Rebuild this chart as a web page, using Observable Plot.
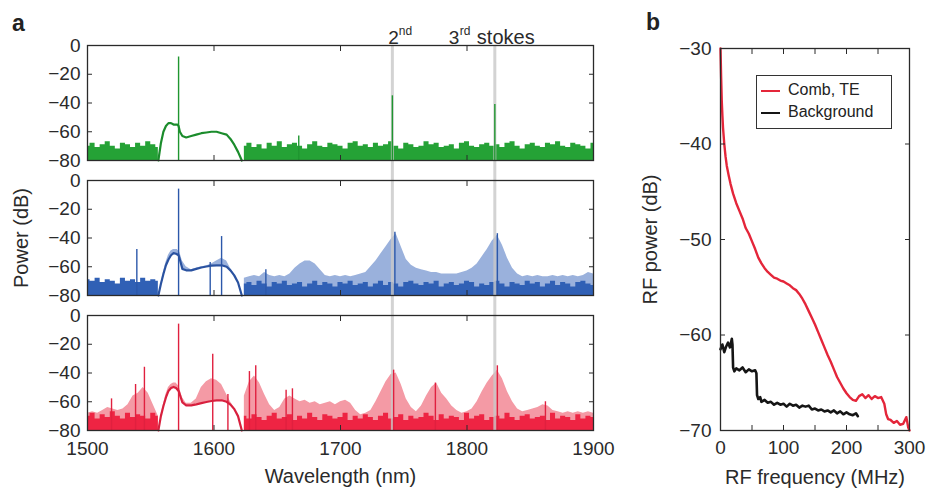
<!DOCTYPE html>
<html><head><meta charset="utf-8">
<script src="https://cdn.jsdelivr.net/npm/d3@7"></script>
<script src="https://cdn.jsdelivr.net/npm/@observablehq/plot@0.6"></script>
<style>
body{margin:0;background:#fff;}
#fig{position:relative;width:927px;height:491px;font-family:"Liberation Sans",Arial,sans-serif;color:#222;overflow:hidden;}
#pa{position:absolute;left:0;top:0;}
#pb{position:absolute;left:620px;top:0;}
.lbl{position:absolute;font-weight:bold;font-size:23px;line-height:1;}
#legend{position:absolute;left:756px;top:75px;width:134px;height:52px;border:1.3px solid #333;background:#fff;font-size:16px;}
#legend .row{position:absolute;left:4px;height:18px;line-height:18px;white-space:nowrap;}
#legend .sw{display:inline-block;width:19px;height:2px;vertical-align:middle;margin-right:8px;}
</style></head><body>
<div id="fig">
  <div id="pa"></div>
  <div id="pb"></div>
  <div class="lbl" style="left:12px;top:12px">a</div>
  <div class="lbl" style="left:646px;top:11px">b</div>
  <div id="legend">
    <div class="row" style="top:5px"><span class="sw" style="background:#e4263a"></span>Comb, TE</div>
    <div class="row" style="top:27px"><span class="sw" style="background:#151515"></span>Background</div>
  </div>
</div>
<script>
// ---------- Panel a data ----------
const WL = [1500,1504,1508,1512,1516,1520,1524,1528,1532,1536,1540,1544,1548,1552,1556,
1560,1564,1568,1572,1576,1580,1584,1588,1592,1596,1600,1604,1608,1612,1616,1620,
1624,1628,1632,1636,1640,1644,1648,1652,1656,1660,1664,1668,1672,1676,1680,1684,1688,1692,1696,1700,
1704,1708,1712,1716,1720,1724,1728,1732,1736,1740,1744,1748,1752,1756,1760,1764,1768,1772,1776,1780,
1784,1788,1792,1796,1800,1804,1808,1812,1816,1820,1824,1828,1832,1836,1840,1844,1848,1852,1856,1860,
1864,1868,1872,1876,1880,1884,1888,1892,1896,1900];

const floorTop = [-70,-68,-71,-69,-67,-70,-72,-68,-69,-71,-68,-70,-67,-69,-71,
null,null,null,null,null,null,null,null,null,null,null,null,null,null,null,null,
-70,-68,-71,-69,-72,-68,-70,-67,-71,-69,-68,-70,-72,-69,-67,-70,-71,-68,-69,-70,
-72,-68,-67,-70,-69,-71,-68,-70,-69,-67,-70,-72,-68,-69,-71,-70,-67,-69,-68,-71,
-70,-69,-72,-68,-67,-70,-71,-69,-68,-70,-69,-71,-68,-67,-70,-72,-69,-68,-70,-71,
-68,-69,-67,-70,-71,-68,-69,-70,-72,-68];

const floorMid = [-69,-70,-68,-71,-69,-70,-72,-68,-70,-69,-71,-68,-70,-69,-70,
null,null,null,null,null,null,null,null,null,null,null,null,null,null,null,null,
-72,-71,-73,-70,-72,-74,-71,-72,-70,-73,-72,-71,-74,-72,-70,-73,-71,-72,-74,-71,
-72,-70,-73,-72,-71,-74,-72,-70,-73,-71,-72,-74,-71,-70,-72,-73,-71,-72,-70,-74,
-72,-71,-73,-72,-70,-71,-74,-72,-73,-71,-70,-72,-74,-71,-72,-73,-70,-72,-71,-74,
-72,-70,-73,-71,-72,-74,-71,-70,-72,-73];

const floorBot = [-70,-68,-72,-69,-71,-67,-70,-72,-68,-71,-69,-70,-72,-68,-70,
null,null,null,null,null,null,null,null,null,null,null,null,null,null,null,null,
-70,-72,-69,-71,-73,-70,-68,-72,-71,-69,-73,-70,-72,-68,-71,-73,-69,-70,-72,-71,
-68,-73,-70,-72,-69,-71,-73,-70,-68,-72,-71,-69,-73,-70,-72,-71,-68,-70,-73,-69,
-72,-70,-71,-73,-68,-72,-70,-69,-73,-71,-70,-72,-68,-71,-73,-70,-69,-72,-71,-70,
-73,-68,-72,-70,-71,-73,-69,-72,-70,-71];

// comb envelopes (lighter shade)
const envMid = [null,null,null,null,null,null,null,null,null,null,null,null,null,null,null,
null,null,null,null,null,null,null,null,null,null,null,null,null,null,null,null,
-68,-67,-66,-67,-64,-66,-67,-66,-67,-65,-61,-58,-56,-56,-58,-62,-66,-67,-66,-67,
-66,-67,-66,-65,-64,-60,-56,-51,-46,-41,-37,-46,-55,-59,-61,-62,-63,-64,-64,-65,
-65,-65,-65,-64,-63,-61,-58,-53,-48,-42,-38,-45,-54,-61,-65,-67,-66,-67,-66,-67,
-67,-66,-67,-66,-67,-66,-67,-66,-64,-65];

const envBot = [-68,-67,-68,-66,-64,-65,-66,-65,-62,-56,-54,-50,-54,-62,-70,
null,null,null,null,null,null,null,null,null,null,null,null,null,null,null,null,
-56,-46,-42,-47,-55,-62,-66,-64,-58,-56,-58,-60,-59,-61,-60,-62,-61,-60,-62,-60,
-59,-61,-66,-69,-68,-66,-60,-53,-46,-41,-40,-48,-58,-64,-67,-63,-56,-50,-47,-54,
-58,-63,-66,-68,-67,-65,-60,-53,-47,-42,-38,-44,-53,-60,-65,-67,-66,-65,-64,-62,
-63,-66,-67,-68,-67,-68,-67,-68,-67,-68];

// pump (filtered) region
const pumpWl  = [1556,1558,1560,1562,1564,1566,1568,1570,1571,1572,1573,1575,1578,1582,1586,1590,1594,1598,1602,1606,1610,1613,1616,1619,1622];
const pumpTop = [-80,-68,-60,-56,-54,-54,-55,-55,-55,-56,-60,-63,-64,-63,-62,-61,-60.5,-60,-60,-61,-62,-65,-69,-74,-80];
const pumpMid = [-80,-72,-65,-59,-55,-52,-50.5,-51,-51.5,-52,-55,-61.5,-62.5,-62.5,-61.5,-60.5,-59.8,-59.2,-59,-59,-60,-62.5,-66,-71,-80];
const pumpBot = [-80,-70,-63,-57,-52.5,-50.5,-49.7,-50.5,-51.5,-52.5,-55,-60.5,-62.5,-62.5,-61.8,-61,-60.2,-59.5,-59,-59,-60,-62,-65,-70,-80];
const pumpEnvMid = [-80,-72,-64,-57,-52,-49,-48,-48,-48,-49,-50,-56,-60,-62,-61,-60,-59.5,-58,-56,-54,-56,-61,-65,-71,-80];
const pumpEnvBot = [-80,-70,-62,-55,-50,-48,-47,-47,-48,-49,-51,-57,-61,-61,-58,-50,-46,-44,-45,-48,-55,-60,-64,-70,-80];

// discrete comb / Stokes lines
const spikeWlTop = [1572,1667,1741,1822];
const spikeDbTop = [-8,-63,-35,-41];
const spikeWlMid = [1539,1572,1597,1606,1641,1743,1824];
const spikeDbMid = [-48,-6,-57,-39,-62,-36,-37];
const spikeWlBot = [1519,1538,1545,1572,1599,1611,1628,1633,1657,1662,1742,1775,1824,1862];
const spikeDbBot = [-58,-48,-36,-6,-27,-55,-39,-35,-52,-51,-38,-47,-35,-60];

const stokesWl = [1741,1822];
const xTicksA = [1500,1600,1700,1800,1900];
const yTicksA = [0,-20,-40,-60,-80];

// ---------- Panel b data ----------
const rfFreqComb = [0,1,2,3,4,6,8,10,13,16,20,25,30,35,40,45,50,55,60,65,70,75,80,85,90,95,100,105,110,115,120,125,130,135,140,145,150,155,160,165,170,175,180,185,190,195,200,205,210,215,220,225,230,235,240,245,250,255,260,263,266,270,275,280,285,290,295,298,300];
const rfComb = [-30,-33,-35.5,-37,-38.3,-40,-41.3,-42.3,-43.3,-44.2,-45.2,
-46.2,-47,-47.8,-48.8,-49.4,-50.2,-51,-51.9,-52.5,-53,-53.4,-53.7,-54,-54.1,-54.3,-54.4,-54.6,-54.8,-55.1,-55.3,-55.7,-56.2,-56.8,-57.5,-58.2,-58.9,-59.7,-60.5,-61.3,-62.1,-62.8,-63.6,-64.4,-65,-65.6,-66.1,-66.5,-66.8,-66.9,-66.4,-66.2,-66.6,-66.3,-66.7,-66.4,-66.6,-66.5,-67.2,
-68.3,-68.8,-68.9,-69.2,-69.0,-69.4,-69.3,-68.6,-69.7,-70];
const rfFreqBg = [0,3,6,9,12,15,18,19,20,22,25,30,35,40,45,50,55,57,58,60,63,65,70,75,80,85,90,95,100,105,110,115,120,125,130,135,140,145,150,155,160,165,170,175,180,185,190,195,200,205,210,215,218];
const rfBg = [-61.5,-61.0,-61.8,-61.2,-60.8,-61.3,-60.4,-61,-63.4,-63.8,-63.5,-63.7,-63.4,-63.9,-63.6,-63.8,-63.7,-64.0,-66.3,-66.7,-66.5,-67.0,-66.8,-67.1,-67.0,-67.3,-67.1,-67.3,-67.2,-67.5,-67.2,-67.4,-67.3,-67.6,-67.4,-67.5,-67.4,-67.8,-67.7,-67.9,-67.8,-68.0,-67.9,-68.1,-67.9,-68.2,-68.0,-68.3,-68.1,-68.3,-68.4,-68.2,-68.5];
const xTicksB = [0,50,100,150,200,250,300];
const xLabelsB = [0,100,200,300];
const yTicksB = [-30,-40,-50,-60,-70];

// ---------- styles ----------
const FONT = "'Liberation Sans', Arial, sans-serif";
const INK = "#2a2a2a";
const C = {
  top: {dark: "#25a236", line: "#1b8c2c", spike: "#1f9630"},
  mid: {dark: "#3060b5", light: "#9ab1dc", line: "#2a52a0", spike: "#2c58aa"},
  bot: {dark: "#ee2443", light: "#f49aa5", line: "#d8203e", spike: "#e0203f"}
};
const PANELS = ["top", "mid", "bot"];
const series = (xs, ys, p) => xs.map((x, i) => ({p, wl: x, db: ys[i]}));
const floors = {top: floorTop, mid: floorMid, bot: floorBot};
const pumps = {top: pumpTop, mid: pumpMid, bot: pumpBot};
const spikes = {top: [spikeWlTop, spikeDbTop], mid: [spikeWlMid, spikeDbMid], bot: [spikeWlBot, spikeDbBot]};
const GAP_DB = 14; // extension of the grey guide lines across the panel gaps
const plain = d => `${d}`;

const marksA = [];
marksA.push(Plot.areaY(series(WL, envMid, "mid"), {x: "wl", y1: -80, y2: "db", fy: "p", fill: C.mid.light}));
marksA.push(Plot.areaY(series(WL, envBot, "bot"), {x: "wl", y1: -80, y2: "db", fy: "p", fill: C.bot.light}));
for (const p of PANELS) {
  marksA.push(Plot.areaY(series(WL, floors[p], p), {x: "wl", y1: -80, y2: "db", fy: "p", fill: C[p].dark, curve: "step"}));
}
marksA.push(Plot.areaY(pumpWl.map((w, i) => ({p: "mid", wl: w, lo: pumpMid[i], hi: pumpEnvMid[i]})), {x: "wl", y1: "lo", y2: "hi", fy: "p", fill: C.mid.light}));
marksA.push(Plot.areaY(pumpWl.map((w, i) => ({p: "bot", wl: w, lo: pumpBot[i], hi: pumpEnvBot[i]})), {x: "wl", y1: "lo", y2: "hi", fy: "p", fill: C.bot.light}));
// grey guide lines
const guides = [];
for (const p of PANELS) for (const w of stokesWl) guides.push({p, wl: w, y1: 0, y2: p === "bot" ? -80 : -80 - GAP_DB});
marksA.push(Plot.ruleX(guides, {x: "wl", y1: "y1", y2: "y2", fy: "p", stroke: "#c8c8c8", strokeWidth: 3, strokeOpacity: 0.8}));
for (const p of PANELS) {
  marksA.push(Plot.ruleX(series(spikes[p][0], spikes[p][1], p), {x: "wl", y1: -80, y2: "db", fy: "p", stroke: C[p].spike, strokeWidth: 1.4}));
  marksA.push(Plot.line(series(pumpWl, pumps[p], p), {x: "wl", y: "db", fy: "p", stroke: C[p].line, strokeWidth: 2.2}));
}
marksA.push(
  Plot.frame({stroke: INK, strokeWidth: 1.3}),
  // inward ticks
  Plot.axisY(yTicksA, {anchor: "left", tickSize: 5, dx: 5, fill: "none", stroke: INK, label: null}),
  Plot.axisY(yTicksA, {anchor: "right", tickSize: 5, dx: -5, fill: "none", stroke: INK, label: null}),
  Plot.axisX(xTicksA, {anchor: "top", tickSize: 5, dy: 5, fill: "none", stroke: INK, label: null, facetAnchor: null}),
  Plot.axisX(xTicksA, {anchor: "bottom", tickSize: 5, dy: -5, fill: "none", stroke: INK, label: null, facetAnchor: null}),
  // labels
  Plot.axisY(yTicksA, {anchor: "left", tickSize: 0, tickPadding: 7, fill: INK, label: null, fontSize: 19}),
  Plot.axisX(xTicksA, {anchor: "bottom", tickSize: 0, tickPadding: 11, fill: INK, label: null, fontSize: 19, tickFormat: plain}),
  Plot.text(["Power (dB)"], {fy: ["mid"], text: d => d, frameAnchor: "left", dx: -66, rotate: -90, textAnchor: "middle", lineAnchor: "middle", fill: INK, fontSize: 20}),
  Plot.text(["Wavelength (nm)"], {fy: ["bot"], text: d => d, frameAnchor: "bottom", dy: 46, textAnchor: "middle", lineAnchor: "middle", fill: INK, fontSize: 20}),
  Plot.text([{p: "top", wl: 1741}], {x: "wl", y: 0, fy: "p", text: () => "2", dx: -4, dy: -2, textAnchor: "start", lineAnchor: "bottom", fill: INK, fontSize: 19}),
  Plot.text([{p: "top", wl: 1741}], {x: "wl", y: 0, fy: "p", text: () => "nd", dx: 6.5, dy: -11, fontSize: 12, textAnchor: "start", lineAnchor: "bottom", fill: INK}),
  Plot.text([{p: "top", wl: 1822}], {x: "wl", y: 0, fy: "p", text: () => "3", dx: -46, dy: -2, textAnchor: "start", lineAnchor: "bottom", fill: INK, fontSize: 19}),
  Plot.text([{p: "top", wl: 1822}], {x: "wl", y: 0, fy: "p", text: () => "rd", dx: -35, dy: -11, fontSize: 12, textAnchor: "start", lineAnchor: "bottom", fill: INK}),
  Plot.text([{p: "top", wl: 1822}], {x: "wl", y: 0, fy: "p", text: () => "stokes", dx: -18, dy: -2, textAnchor: "start", lineAnchor: "bottom", fill: INK, fontSize: 20})
);

const plotA = Plot.plot({
  width: 620, height: 491,
  marginLeft: 87, marginRight: 27, marginTop: 44, marginBottom: 59,
  x: {domain: [1500, 1900], label: null},
  y: {domain: [-80, 0], label: null},
  fy: {domain: PANELS, axis: null, paddingInner: 0.147, paddingOuter: 0, label: null},
  style: {fontFamily: FONT, fontSize: "19px", color: INK, background: "transparent", overflow: "visible"},
  marks: marksA
});
document.getElementById("pa").appendChild(plotA);

const plotB = Plot.plot({
  width: 307, height: 491,
  marginLeft: 100, marginRight: 18, marginTop: 48, marginBottom: 61,
  x: {domain: [0, 300], label: null},
  y: {domain: [-70, -30], label: null},
  style: {fontFamily: FONT, fontSize: "19px", color: INK, background: "transparent", overflow: "visible"},
  marks: [
    Plot.line(rfFreqBg.map((f, i) => ({f, v: rfBg[i]})), {x: "f", y: "v", stroke: "#151515", strokeWidth: 2.6}),
    Plot.line(rfFreqComb.map((f, i) => ({f, v: rfComb[i]})), {x: "f", y: "v", stroke: "#e4263a", strokeWidth: 2.4}),
    Plot.frame({stroke: INK, strokeWidth: 1.3}),
    Plot.axisY(yTicksB, {anchor: "left", tickSize: 5, dx: 5, fill: "none", stroke: INK, label: null}),
    Plot.axisY(yTicksB, {anchor: "right", tickSize: 5, dx: -5, fill: "none", stroke: INK, label: null}),
    Plot.axisX(xTicksB, {anchor: "top", tickSize: 5, dy: 5, fill: "none", stroke: INK, label: null}),
    Plot.axisX(xTicksB, {anchor: "bottom", tickSize: 5, dy: -5, fill: "none", stroke: INK, label: null}),
    Plot.axisY(yTicksB, {anchor: "left", tickSize: 0, tickPadding: 9, fill: INK, label: null, fontSize: 19}),
    Plot.axisX(xLabelsB, {anchor: "bottom", tickSize: 0, tickPadding: 10, fill: INK, label: null, fontSize: 19, tickFormat: plain}),
    Plot.text(["RF power (dB)"], {text: d => d, frameAnchor: "left", dx: -70, rotate: -90, textAnchor: "middle", lineAnchor: "middle", fill: INK, fontSize: 20}),
    Plot.text(["RF frequency (MHz)"], {text: d => d, frameAnchor: "bottom", dy: 47, textAnchor: "middle", lineAnchor: "middle", fill: INK, fontSize: 20})
  ]
});
document.getElementById("pb").appendChild(plotB);
</script>
</body></html>
